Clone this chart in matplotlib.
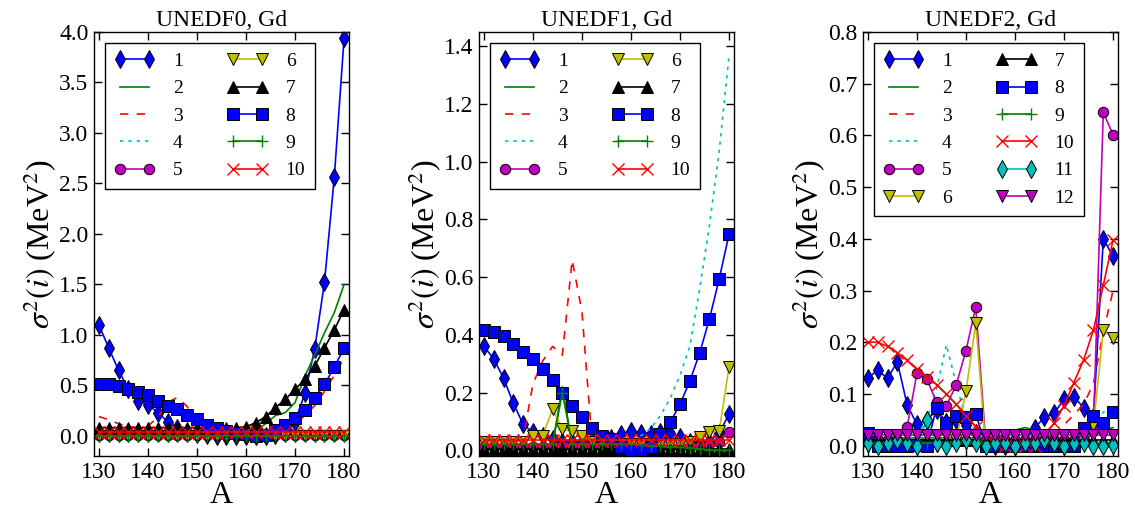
import numpy as np
import matplotlib
matplotlib.use("Agg")
import matplotlib.pyplot as plt

plt.rcParams["font.family"] = ["Liberation Serif", "DejaVu Serif"]
plt.rcParams["mathtext.fontset"] = "stix"

# mass number A
A = [130, 132, 134, 136, 138, 140, 142, 144, 146, 148, 150, 152, 154,
     156, 158, 160, 162, 164, 166, 168, 170, 172, 174, 176, 178, 180]

# UNEDF0
u0_1 = [1.10, 0.87, 0.65, 0.46, 0.34, 0.31, 0.23, 0.14, 0.08, 0.04, 0.02, 0.01, 0.00,
        0.00, 0.00, 0.00, 0.00, 0.00, 0.01, 0.04, 0.14, 0.42, 0.86, 1.52, 2.56, 3.94]
u0_2 = [0.01, 0.01, 0.01, 0.01, 0.01, 0.01, 0.01, 0.01, 0.01, 0.01, 0.00, 0.00, 0.00,
        0.00, 0.01, 0.02, 0.05, 0.12, 0.20, 0.23, 0.33, 0.59, 0.80, 1.02, 1.22, 1.50]
u0_3 = [0.19, 0.16, 0.12, 0.09, 0.08, 0.10, 0.18, 0.33, 0.38, 0.29, 0.12, 0.03, 0.01,
        0.01, 0.01, 0.01, 0.01, 0.01, 0.02, 0.05, 0.12, 0.20, 0.30, 0.44, 0.60, 0.77]
u0_4 = [0.02, 0.02, 0.02, 0.02, 0.02, 0.02, 0.02, 0.02, 0.02, 0.02, 0.02, 0.02, 0.02,
        0.02, 0.02, 0.02, 0.02, 0.02, 0.02, 0.02, 0.02, 0.02, 0.02, 0.02, 0.02, 0.02]
u0_5 = [0.01, 0.01, 0.01, 0.01, 0.01, 0.01, 0.01, 0.01, 0.01, 0.01, 0.01, 0.01, 0.01,
        0.01, 0.01, 0.01, 0.01, 0.01, 0.01, 0.01, 0.01, 0.01, 0.01, 0.01, 0.01, 0.01]
u0_6 = [0.00, 0.00, 0.00, 0.00, 0.00, 0.00, 0.00, 0.00, 0.00, 0.00, 0.00, 0.00, 0.00,
        0.00, 0.00, 0.00, 0.00, 0.00, 0.00, 0.00, 0.00, 0.00, 0.00, 0.00, 0.00, 0.00]
u0_7 = [0.08, 0.08, 0.08, 0.08, 0.08, 0.08, 0.08, 0.08, 0.08, 0.08, 0.08, 0.08, 0.08,
        0.08, 0.08, 0.09, 0.13, 0.19, 0.28, 0.36, 0.46, 0.56, 0.69, 0.87, 1.05, 1.25]
u0_8 = [0.51, 0.51, 0.49, 0.46, 0.43, 0.40, 0.34, 0.30, 0.27, 0.21, 0.17, 0.11, 0.08,
        0.05, 0.03, 0.02, 0.00, 0.01, 0.06, 0.11, 0.18, 0.26, 0.375, 0.51, 0.68, 0.87]
u0_9 = [0.00, 0.00, 0.00, 0.00, 0.00, 0.00, 0.00, 0.00, 0.00, 0.00, 0.00, 0.00, 0.00,
        0.00, 0.00, 0.00, 0.00, 0.00, 0.00, 0.00, 0.00, 0.00, 0.00, 0.00, 0.00, 0.00]
u0_10 = [0.04, 0.04, 0.04, 0.04, 0.04, 0.04, 0.04, 0.04, 0.04, 0.04, 0.04, 0.04, 0.04,
         0.04, 0.04, 0.04, 0.04, 0.04, 0.04, 0.04, 0.04, 0.04, 0.04, 0.04, 0.04, 0.04]

# UNEDF1
u1_1 = [0.36, 0.317, 0.25, 0.163, 0.09, 0.062, 0.05, 0.04, 0.03, 0.03, 0.03, 0.035, 0.04,
        0.042, 0.056, 0.068, 0.06, 0.057, 0.062, 0.06, 0.045, 0.03, 0.025, 0.03, 0.06, 0.126]
u1_2 = [0.02, 0.02, 0.02, 0.02, 0.02, 0.02, 0.02, 0.02, 0.22, 0.02, 0.02, 0.02, 0.02,
        0.02, 0.02, 0.02, 0.02, 0.015, 0.015, 0.01, 0.01, 0.01, 0.005, 0.005, 0.0, 0.0]
u1_3 = [0.03, 0.03, 0.03, 0.03, 0.04, 0.23, 0.31, 0.36, 0.33, 0.66, 0.48, 0.04, 0.03,
        0.03, 0.03, 0.03, 0.03, 0.03, 0.03, 0.03, 0.03, 0.03, 0.03, 0.03, 0.03, 0.04]
u1_4 = [0.02, 0.02, 0.02, 0.02, 0.02, 0.02, 0.02, 0.02, 0.02, 0.02, 0.02, 0.02, 0.02,
        0.02, 0.02, 0.03, 0.05, 0.075, 0.12, 0.18, 0.26, 0.36, 0.56, 0.78, 1.04, 1.37]
u1_5 = [0.01, 0.01, 0.01, 0.01, 0.01, 0.01, 0.01, 0.01, 0.01, 0.01, 0.01, 0.01, 0.01,
        0.01, 0.01, 0.01, 0.01, 0.01, 0.01, 0.01, 0.01, 0.01, 0.01, 0.02, 0.03, 0.062]
u1_6 = [0.03, 0.03, 0.03, 0.03, 0.03, 0.05, 0.05, 0.143, 0.074, 0.065, 0.05, 0.03, 0.02,
        0.02, 0.02, 0.02, 0.02, 0.02, 0.02, 0.02, 0.02, 0.03, 0.047, 0.062, 0.068, 0.29]
u1_7 = [0.003, 0.003, 0.003, 0.003, 0.003, 0.003, 0.003, 0.003, 0.003, 0.003, 0.003, 0.003, 0.003,
        0.003, 0.003, 0.003, 0.003, 0.003, 0.003, 0.003, 0.003, 0.003, 0.003, 0.003, 0.003, 0.003]
u1_8 = [0.416, 0.41, 0.396, 0.37, 0.34, 0.317, 0.28, 0.245, 0.20, 0.155, 0.114, 0.077, 0.05,
        0.04, 0.01, 0.0, 0.0, 0.01, 0.056, 0.097, 0.16, 0.24, 0.337, 0.456, 0.595, 0.75]
u1_9 = [0.02, 0.02, 0.02, 0.02, 0.02, 0.02, 0.02, 0.02, 0.20, 0.02, 0.02, 0.02, 0.02,
        0.02, 0.02, 0.02, 0.018, 0.016, 0.014, 0.012, 0.01, 0.008, 0.005, 0.002, 0.0, 0.0]
u1_10 = [0.035, 0.035, 0.035, 0.035, 0.035, 0.035, 0.035, 0.035, 0.035, 0.035, 0.035, 0.035, 0.035,
         0.035, 0.035, 0.035, 0.035, 0.035, 0.035, 0.035, 0.035, 0.035, 0.035, 0.035, 0.035, 0.035]

# UNEDF2
u2_1 = [0.131, 0.146, 0.13, 0.162, 0.079, 0.041, 0.05, 0.068, 0.045, 0.05, 0.039, 0.025, 0.005,
        0.0, 0.0, 0.0, 0.01, 0.034, 0.055, 0.063, 0.09, 0.095, 0.073, 0.055, 0.40, 0.366]
u2_2 = [0.015, 0.015, 0.015, 0.015, 0.015, 0.015, 0.015, 0.015, 0.015, 0.015, 0.015, 0.015, 0.015,
        0.015, 0.02, 0.03, 0.035, 0.03, 0.02, 0.015, 0.015, 0.015, 0.015, 0.02, 0.03, 0.035]
u2_3 = [0.03, 0.02, 0.01, 0.01, 0.01, 0.01, 0.01, 0.01, 0.01, 0.01, 0.01, 0.01, 0.01,
        0.01, 0.01, 0.01, 0.01, 0.02, 0.03, 0.01, 0.04, 0.06, 0.08, 0.12, 0.22, 0.30]
u2_4 = [0.01, 0.01, 0.01, 0.01, 0.01, 0.02, 0.05, 0.11, 0.195, 0.12, 0.05, 0.03, 0.01,
        0.01, 0.01, 0.01, 0.01, 0.01, 0.01, 0.01, 0.01, 0.01, 0.01, 0.03, 0.065, 0.07]
u2_5 = [0.01, 0.01, 0.01, 0.01, 0.036, 0.14, 0.129, 0.084, 0.077, 0.117, 0.184, 0.268, 0.01,
        0.01, 0.01, 0.01, 0.01, 0.01, 0.01, 0.01, 0.01, 0.01, 0.01, 0.04, 0.645, 0.601]
u2_6 = [0.0, 0.0, 0.0, 0.0, 0.0, 0.0, 0.0, 0.0, 0.0, 0.01, 0.105, 0.237, 0.0,
        0.0, 0.0, 0.0, 0.0, 0.0, 0.0, 0.0, 0.0, 0.0, 0.02, 0.04, 0.223, 0.209]
u2_7 = [0.01, 0.01, 0.01, 0.01, 0.01, 0.01, 0.01, 0.01, 0.01, 0.01, 0.01, 0.01, 0.01,
        0.01, 0.01, 0.01, 0.01, 0.01, 0.01, 0.01, 0.01, 0.01, 0.01, 0.01, 0.01, 0.01]
u2_8 = [0.025, 0.0, 0.0, 0.0, 0.0, 0.002, 0.0, 0.073, 0.043, 0.057, 0.055, 0.061, 0.0,
        0.0, 0.0, 0.0, 0.0, 0.0, 0.0, 0.0, 0.0, 0.0, 0.034, 0.057, 0.044, 0.065]
u2_9 = [0.005, 0.005, 0.005, 0.005, 0.005, 0.005, 0.005, 0.005, 0.005, 0.005, 0.005, 0.005, 0.005,
        0.005, 0.005, 0.005, 0.005, 0.005, 0.005, 0.005, 0.005, 0.005, 0.005, 0.005, 0.005, 0.005]
u2_10 = [0.2, 0.2, 0.192, 0.18, 0.165, 0.148, 0.133, 0.118, 0.1, 0.08, 0.057, 0.037, 0.02,
         0.005, 0.0, 0.0, 0.0, 0.0, 0.02, 0.044, 0.077, 0.122, 0.166, 0.224, 0.31, 0.398]
u2_11 = [0.005, 0.0, 0.005, 0.01, 0.005, 0.0, 0.05, 0.005, 0.0, 0.005, 0.01, 0.005, 0.0,
         0.005, 0.005, 0.0, 0.005, 0.005, 0.01, 0.005, 0.0, 0.005, 0.005, 0.0, 0.0, 0.002]
u2_12 = [0.02, 0.02, 0.02, 0.02, 0.02, 0.02, 0.02, 0.02, 0.02, 0.02, 0.02, 0.02, 0.02,
         0.02, 0.02, 0.02, 0.02, 0.02, 0.02, 0.02, 0.02, 0.02, 0.02, 0.02, 0.02, 0.02]

labels = ["1", "2", "3", "4", "5", "6", "7", "8", "9", "10", "11", "12"]

styles = [
    dict(color="b", marker="d", ls="-", ms=9),
    dict(color="g", ls="-"),
    dict(color="r", ls=(0, (5, 5))),
    dict(color="c", ls=(0, (2, 3))),
    dict(color="m", marker="o", ls="-", ms=7.5),
    dict(color="y", marker="v", ls="-", ms=8),
    dict(color="k", marker="^", ls="-", ms=8),
    dict(color="b", marker="s", ls="-", ms=8),
    dict(color="g", marker="+", ls="-", ms=9, mew=1.0),
    dict(color="r", marker="x", ls="-", ms=8, mew=1.0),
    dict(color="c", marker="d", ls="-", ms=9),
    dict(color="m", marker="v", ls="-", ms=8),
]

panels = [
    ("UNEDF0, Gd", [u0_1, u0_2, u0_3, u0_4, u0_5, u0_6, u0_7, u0_8, u0_9, u0_10],
     (-0.2, 4.0), np.arange(0, 4.01, 0.5)),
    ("UNEDF1, Gd", [u1_1, u1_2, u1_3, u1_4, u1_5, u1_6, u1_7, u1_8, u1_9, u1_10],
     (-0.02, 1.45), np.arange(0, 1.41, 0.2)),
    ("UNEDF2, Gd", [u2_1, u2_2, u2_3, u2_4, u2_5, u2_6, u2_7, u2_8, u2_9, u2_10, u2_11, u2_12],
     (-0.02, 0.8), np.arange(0, 0.81, 0.1)),
]

fig = plt.figure(figsize=(11.35, 5.12), dpi=100)
lefts = [94 / 1135, 479 / 1135, 863 / 1135]

for k, (title, series, ylim, yt) in enumerate(panels):
    ax = fig.add_axes([lefts[k], 56 / 512, 255 / 1135, 424 / 512])
    for i, ys in enumerate(series):
        st = dict(styles[i])
        st.setdefault("mew", 0.7)
        edge = st["color"] if st.get("marker") in ("+", "x") else "k"
        ax.plot(A, ys, lw=1.2, mec=edge, label=labels[i], **st)
    ax.set_xlim(129, 181)
    ax.set_ylim(*ylim)
    ax.set_xticks([130, 140, 150, 160, 170, 180])
    ax.set_yticks(yt)
    ax.set_yticklabels(["%.1f" % v for v in yt])
    ax.tick_params(direction="in", top=True, right=True, length=6, width=1, labelsize=17, pad=4)
    for sp in ax.spines.values():
        sp.set_linewidth(1.0)
    ax.set_title(title, fontsize=17, pad=4)
    ax.set_xlabel("A", fontsize=23, labelpad=-1)
    ax.set_ylabel(r"$\sigma^2(i)$ (MeV$^2$)", fontsize=23, labelpad=0)
    leg = ax.legend(ncol=2, loc="upper left", numpoints=2, fontsize=14, fancybox=False,
                    framealpha=1, edgecolor="k", handlelength=2.1, handletextpad=0.9,
                    columnspacing=2.3, labelspacing=0.5, borderpad=0.5, borderaxespad=0.55)
    leg.get_frame().set_linewidth(1.0)

plt.savefig("out.png", dpi=100)
